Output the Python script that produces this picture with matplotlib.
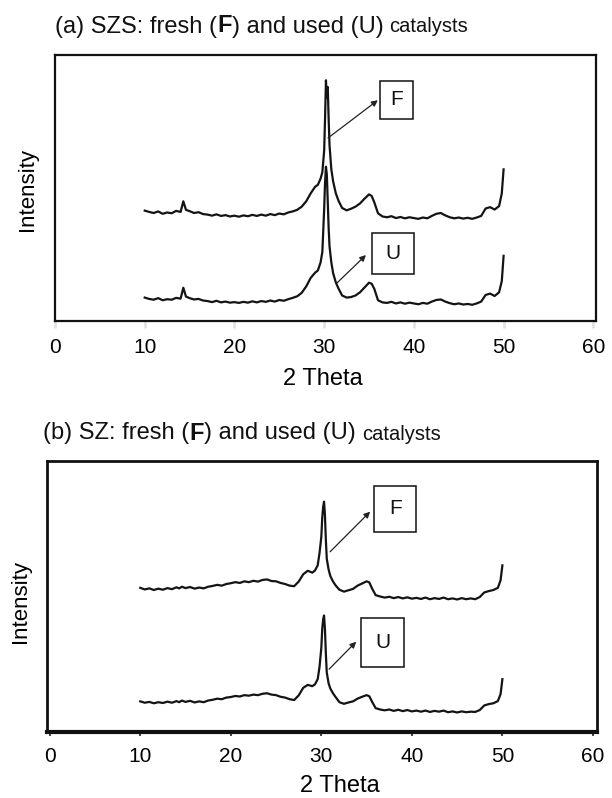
import matplotlib
matplotlib.use("Agg")
import matplotlib.pyplot as plt
from matplotlib.patches import Rectangle
from matplotlib.offsetbox import TextArea, HPacker, AnnotationBbox

plt.rcParams['font.family'] = ['Liberation Sans', 'DejaVu Sans']

# ---------------- data ----------------
two_theta = [10, 10.5, 11, 11.5, 12, 12.5, 13, 13.5, 14, 14.3, 14.6,
             15, 15.5, 16, 16.5, 17, 17.5, 18, 18.5, 19, 19.5,
             20, 20.5, 21, 21.5, 22, 22.5, 23, 23.5, 24, 24.5,
             25, 25.5, 26, 26.5, 27, 27.5, 28, 28.5, 29, 29.3, 29.6, 29.8,
             30.0, 30.1, 30.2, 30.3, 30.4, 30.5, 30.6, 30.8, 31.0, 31.3, 31.6,
             32, 32.5, 33, 33.5, 34, 34.5, 35, 35.3, 35.6,
             36, 36.5, 37, 37.5, 38, 38.5, 39, 39.5, 40, 40.5, 41, 41.5,
             42, 42.5, 43, 43.5, 44, 44.5, 45, 45.5, 46, 46.5, 47, 47.5,
             48, 48.5, 49, 49.5, 49.8, 50.0]

szs_fresh = [41.5, 41.0, 40.6, 41.2, 40.3, 40.8, 40.5, 41.4, 41.0, 45.0, 41.8,
             41.3, 40.6, 40.9, 40.2, 40.0, 39.6, 40.1, 39.5, 39.8, 39.3,
             39.6, 39.2, 39.7, 39.4, 39.9, 39.5, 40.0, 39.6, 40.2, 39.8,
             40.4, 40.1, 40.8, 41.2, 41.8, 43.0, 45.0, 48.0, 50.5, 51.2, 53.5, 56.0,
             64.0, 76.0, 90.5, 84.0, 88.0, 76.0, 66.0, 57.0, 52.5, 48.0, 45.2,
             42.5, 41.6, 42.2, 43.0, 44.2, 46.0, 47.6, 47.0, 44.5,
             40.5, 39.3, 39.0, 39.4, 38.7, 39.1, 38.6, 39.0, 38.7, 38.4, 38.9, 38.6,
             39.5, 40.3, 40.6, 39.7, 39.0, 38.6, 38.9, 38.5, 38.8, 38.4, 38.9, 39.5,
             42.3, 42.8, 41.9, 43.2, 48.0, 57.0]

szs_used = [8.8, 8.3, 8.0, 8.6, 7.8, 8.2, 8.0, 8.7, 8.4, 12.5, 9.2,
            8.6, 8.1, 8.3, 7.7, 7.5, 7.1, 7.6, 7.0, 7.3, 6.9,
            7.1, 6.8, 7.2, 6.9, 7.4, 7.0, 7.5, 7.2, 7.7, 7.3,
            7.9, 7.6, 8.2, 8.7, 9.3, 10.6, 13.0, 16.2, 18.2, 19.0, 22.0, 26.0,
            42.0, 52.0, 58.0, 55.0, 45.0, 35.0, 28.0, 22.0, 18.0, 14.5, 12.2,
            9.6, 8.8, 9.0, 9.6, 10.8, 12.6, 14.4, 14.0, 12.0,
            7.8, 7.0, 6.8, 7.2, 6.6, 7.0, 6.5, 6.9, 6.6, 6.3, 6.8, 6.5,
            7.3, 7.9, 8.1, 7.3, 6.7, 6.3, 6.6, 6.2, 6.4, 6.1, 6.6, 7.3,
            9.8, 10.3, 9.4, 10.8, 15.0, 24.5]

sz_fresh = [53.2, 52.6, 53.0, 52.4, 52.9, 52.5, 53.1, 52.7, 53.4, 53.0, 53.6,
            53.1, 53.5, 52.9, 53.3, 53.0, 53.6, 53.9, 54.3, 54.0, 54.6,
            54.9, 55.3, 55.0, 55.6, 55.3, 55.8, 55.5, 56.1, 56.3, 55.7,
            55.6, 55.0, 54.6, 54.0, 53.8, 55.5, 58.2, 59.5, 58.8, 59.6, 61.5, 66.0,
            72.0, 79.0, 83.0, 85.0, 80.0, 71.0, 64.0, 60.0, 57.5, 55.5, 54.0,
            52.5, 51.8, 52.3, 52.8, 54.0, 54.8, 55.6, 55.2, 53.0,
            50.5, 50.0, 49.6, 49.9, 49.4, 49.8, 49.3, 49.7, 49.2, 49.5, 49.1, 49.6,
            49.0, 49.4, 49.1, 49.6, 49.0, 49.3, 48.9, 49.4, 49.0, 49.3, 49.0, 49.8,
            51.5, 52.0, 52.4, 53.2, 56.0, 61.5]

sz_used = [11.3, 10.8, 11.1, 10.6, 11.0, 10.7, 11.2, 10.8, 11.4, 11.0, 11.6,
           11.1, 11.5, 10.9, 11.3, 11.0, 11.6, 11.9, 12.3, 12.1, 12.7,
           12.9, 13.3, 13.1, 13.6, 13.4, 13.8, 13.6, 14.1, 14.3, 13.8,
           13.6, 13.0, 12.7, 12.1, 11.8, 13.5, 16.3, 17.4, 16.9, 17.6, 19.5, 24.0,
           31.0, 38.0, 41.5, 43.0, 38.0, 29.0, 22.0, 18.0, 16.0, 14.2, 12.8,
           11.0, 10.4, 10.9, 11.3, 12.3, 13.0, 13.6, 13.2, 11.2,
           8.8, 8.3, 8.0, 8.3, 7.8, 8.2, 7.7, 8.1, 7.6, 7.9, 7.5, 7.9,
           7.4, 7.8, 7.5, 7.9, 7.3, 7.6, 7.2, 7.6, 7.3, 7.5, 7.4, 8.1,
           9.8, 10.3, 10.6, 11.4, 14.0, 19.5]

x_ticks = [0, 10, 20, 30, 40, 50, 60]
x_tick_labels = ['0', '10', '20', '30', '40', '50', '60']
curve_labels = ['F', 'U']
titles = [("(a) SZS: fresh (", "F", ") and used (U)", "catalysts"),
          ("(b) SZ: fresh (", "F", ") and used (U)", "catalysts")]
x_label = '2 Theta'
y_label = 'Intensity'

# ---------------- figure ----------------
W, H = 612, 798
fig = plt.figure(figsize=(W / 100, H / 100), dpi=100)
fig.patch.set_facecolor('white')


def px_axes(l, t, r, b):
    return fig.add_axes([l / W, 1 - b / H, (r - l) / W, (b - t) / H])


ax_a = px_axes(55, 55, 596, 321)
ax_b = px_axes(47, 461, 597, 732)

line_kw = dict(color='#141414', lw=1.6, solid_joinstyle='round')

# panel (a)
ax_a.plot(two_theta, szs_fresh, **line_kw)
ax_a.plot(two_theta, szs_used, **line_kw)
ax_a.set_xlim(0, 60.3)
ax_a.set_ylim(0, 100)

# panel (b)
ax_b.plot(two_theta, sz_fresh, **line_kw)
ax_b.plot(two_theta, sz_used, **line_kw)
ax_b.set_xlim(-0.3, 60.45)
ax_b.set_ylim(0, 100)

for ax in (ax_a, ax_b):
    ax.set_xticks(x_ticks)
    ax.set_xticklabels(x_tick_labels, fontsize=15)
    ax.set_yticks([])
    ax.set_facecolor('white')

for sp in ax_a.spines.values():
    sp.set_linewidth(1.6)
    sp.set_color('#111111')
for sp in ax_b.spines.values():
    sp.set_linewidth(2.0)
    sp.set_color('#111111')
ax_b.spines['bottom'].set_linewidth(3.0)

ax_a.tick_params(axis='x', length=5, width=2.0, color='#e2e2e2', pad=7)
ax_b.tick_params(axis='x', length=3, width=1.2, color='#222222', pad=8)

# axis labels
ax_a.set_xlabel(x_label, fontsize=17)
ax_a.xaxis.set_label_coords(0.495, -0.177)
ax_a.xaxis.label.set_va('top')
ax_b.set_xlabel(x_label, fontsize=17)
ax_b.xaxis.set_label_coords(0.532, -0.158)
ax_b.xaxis.label.set_va('top')

ax_a.set_ylabel(y_label, fontsize=16, va='center')
ax_a.yaxis.set_label_coords(-0.0512, 0.494)
ax_b.set_ylabel(y_label, fontsize=16, va='center')
ax_b.yaxis.set_label_coords(-0.048, 0.48)


# boxed labels and arrows
def boxed(ax, x0, x1, y0, y1, txt):
    ax.add_patch(Rectangle((x0, y0), x1 - x0, y1 - y0, fill=False,
                           ec='#111111', lw=1.1, zorder=3))
    ax.text((x0 + x1) / 2, (y0 + y1) / 2, txt, ha='center', va='center',
            fontsize=15, color='#111111', zorder=4)


def arrow(ax, start, end, ls='-'):
    ax.annotate('', xy=end, xytext=start,
                arrowprops=dict(arrowstyle='-|>', color='#222222', lw=0.9,
                                mutation_scale=9, shrinkA=0, shrinkB=0,
                                linestyle=ls))


boxed(ax_a, 36.22, 39.90, 75.9, 90.3, curve_labels[0])
boxed(ax_a, 35.33, 40.01, 17.7, 33.1, curve_labels[1])
arrow(ax_a, (30.43, 68.8), (35.98, 83.0))
arrow(ax_a, (31.43, 14.3), (34.66, 24.8))

boxed(ax_b, 35.84, 40.48, 73.8, 90.8, curve_labels[0])
boxed(ax_b, 34.40, 39.15, 24.0, 42.1, curve_labels[1])
arrow(ax_b, (30.97, 66.5), (35.39, 81.3))
arrow(ax_b, (30.86, 23.2), (33.85, 33.3))


# titles with mixed styles
def title(parts, x_px, yc_px):
    p1 = TextArea(parts[0], textprops=dict(fontsize=17, color='#111111'))
    p2 = TextArea(parts[1], textprops=dict(fontsize=17, fontweight='bold', color='#111111'))
    p3 = TextArea(parts[2], textprops=dict(fontsize=17, color='#111111'))
    p4 = TextArea(parts[3], textprops=dict(fontsize=14.5, color='#111111'))
    inner = HPacker(children=[p1, p2, p3], sep=0, pad=0, align='baseline')
    pack = HPacker(children=[inner, p4], sep=4.5, pad=0, align='baseline')
    ab = AnnotationBbox(pack, (x_px, H - yc_px), xycoords='figure pixels',
                        box_alignment=(0, 0.5), frameon=False, pad=0)
    fig.add_artist(ab)


title(titles[0], 55, 26)
title(titles[1], 43, 433)

fig.savefig('out.png', dpi=100, facecolor='white')
